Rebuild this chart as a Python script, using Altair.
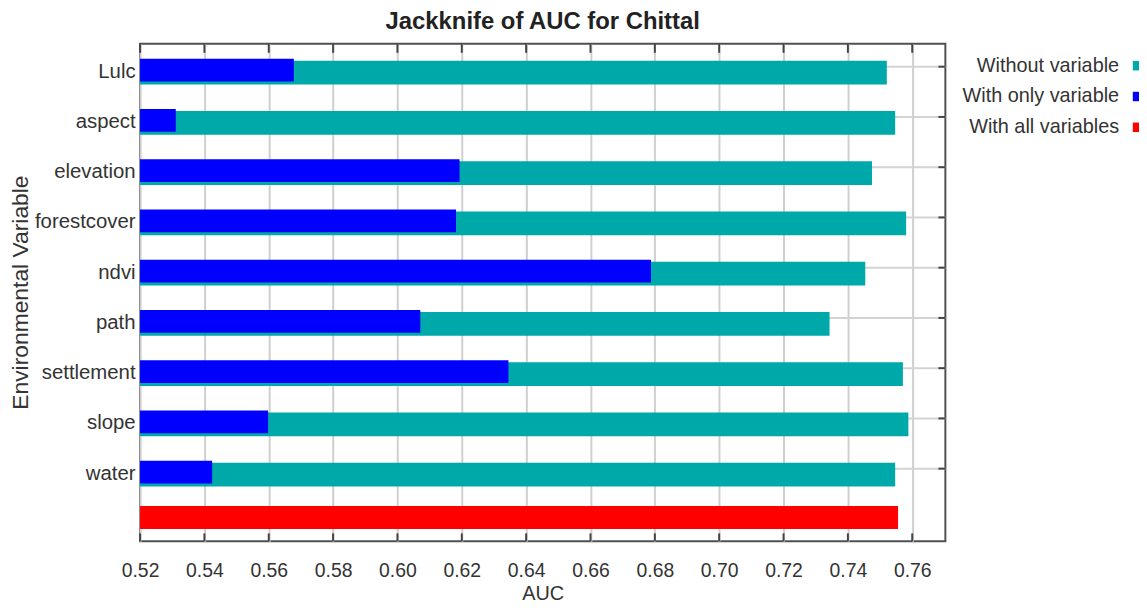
import altair as alt
import pandas as pd

# ---- data ----
variables = ["Lulc", "aspect", "elevation", "forestcover", "ndvi",
             "path", "settlement", "slope", "water"]
without_variable = [0.7521, 0.7547, 0.7475, 0.7581, 0.7454,
                    0.7343, 0.7571, 0.7588, 0.7547]
with_only_variable = [0.5678, 0.5311, 0.6193, 0.6182, 0.6788,
                      0.6071, 0.6345, 0.5598, 0.5424]
all_label = " "
with_all_variables = [0.7556]
x_ticks = [0.52, 0.54, 0.56, 0.58, 0.60, 0.62, 0.64, 0.66,
           0.68, 0.70, 0.72, 0.74, 0.76]
series_names = ["Without variable", "With only variable", "With all variables"]
series_colors = ["#00A9A9", "#0000FF", "#FF0000"]

FONT = "Liberation Sans Narrow, Liberation Sans, Arial, sans-serif"
W, H = 811, 501


def frame(vars_, vals, name):
    return pd.DataFrame({"variable": vars_, "value": vals,
                         "series": name, "label": name})


df_without = frame(variables, without_variable, series_names[0])
df_only = frame(variables, with_only_variable, series_names[1])
df_all = frame([all_label], with_all_variables, series_names[2])
df_vars = pd.DataFrame({"variable": variables})
df_ticks = pd.DataFrame({"tick": x_ticks})

y_domain = variables + [all_label]
yscale = alt.Scale(domain=y_domain, paddingInner=0.5, paddingOuter=0.2005, align=0.756)
xscale = alt.Scale(domain=[0.52, 0.7703], zero=False, nice=False)

y_enc = alt.Y("variable:N", scale=yscale, sort=y_domain,
              axis=alt.Axis(title="Environmental Variable", ticks=False, domain=False,
                            grid=False, labelPadding=5, titleX=-108, titleY=250,
                            labelFontSize=20.5, titleFontSize=23))
x_enc = alt.X("value:Q", scale=xscale,
              axis=alt.Axis(title="AUC", values=x_ticks, format=".2f", ticks=False,
                            domain=False, grid=True, gridColor="#cfcfcf", gridWidth=2,
                            labelPadding=20, titlePadding=4, labelFlush=False,
                            labelOverlap=False, labelFontSize=19.5, titleFontSize=20))

LEG = dict(title=None, orient="none", legendY=12, symbolType="square", symbolSize=90,
           symbolStrokeWidth=0, labelAlign="right", labelOffset=0, labelFontSize=20,
           labelFont=FONT, labelColor="#333333", labelLimit=0, rowPadding=11)

# colour legend: the swatches (right column); its own labels are blank
color_enc = alt.Color("series:N",
                      scale=alt.Scale(domain=series_names, range=series_colors),
                      legend=alt.Legend(legendX=994.5, labelOpacity=0,
                                        labelExpr="' '", **LEG))
# label legend: the right-aligned texts left of the swatches
label_enc = alt.Opacity("label:N", sort=series_names,
                        scale=alt.Scale(range=[1, 1, 1]),
                        legend=alt.Legend(legendX=966, symbolFillColor="transparent",
                                          symbolStrokeColor="transparent", **LEG))

hgrid = alt.Chart(df_vars).mark_rule(color="#d3d3d3", strokeWidth=2, yOffset=-5).encode(
    y=y_enc, x=alt.value(0), x2=alt.value(W))

teal = alt.Chart(df_without).mark_bar(size=24, yOffset=1).encode(
    y=y_enc, x=x_enc, x2=alt.datum(0.52), color=color_enc, opacity=label_enc)
blue = alt.Chart(df_only).mark_bar(size=23, yOffset=-1.5).encode(
    y=y_enc, x=x_enc, x2=alt.datum(0.52), color=color_enc, opacity=label_enc)
red = alt.Chart(df_all).mark_bar(size=23, yOffset=-6.4).encode(
    y=y_enc, x=x_enc, x2=alt.datum(0.52), color=color_enc, opacity=label_enc)

right_ticks = alt.Chart(df_vars).mark_rule(color="#444444", strokeWidth=2, yOffset=-5).encode(
    y=y_enc, x=alt.value(W - 7), x2=alt.value(W))
top_ticks = alt.Chart(df_ticks).mark_rule(color="#444444", strokeWidth=2).encode(
    x=alt.X("tick:Q", scale=xscale), y=alt.value(0), y2=alt.value(9))
bottom_ticks = alt.Chart(df_ticks).mark_rule(color="#444444", strokeWidth=2).encode(
    x=alt.X("tick:Q", scale=xscale), y=alt.value(H - 8), y2=alt.value(H))

chart = alt.layer(hgrid, teal, blue, red, right_ticks, top_ticks, bottom_ticks).properties(
    width=W, height=H,
    padding={"left": 133, "top": 34, "right": 195, "bottom": 63},
    autosize=alt.AutoSizeParams(type="none"),
    title=alt.TitleParams("Jackknife of AUC for Chittal", font=FONT, fontSize=24,
                          fontWeight="bold", color="#222222", anchor="middle", offset=9),
).configure_view(
    stroke="#505050", strokeWidth=2
).configure_axis(
    labelFont=FONT, titleFont=FONT,
    labelColor="#333333", titleColor="#333333", titleFontWeight="normal"
)

chart.save("out.html", embed_options={"renderer": "svg", "actions": False})
